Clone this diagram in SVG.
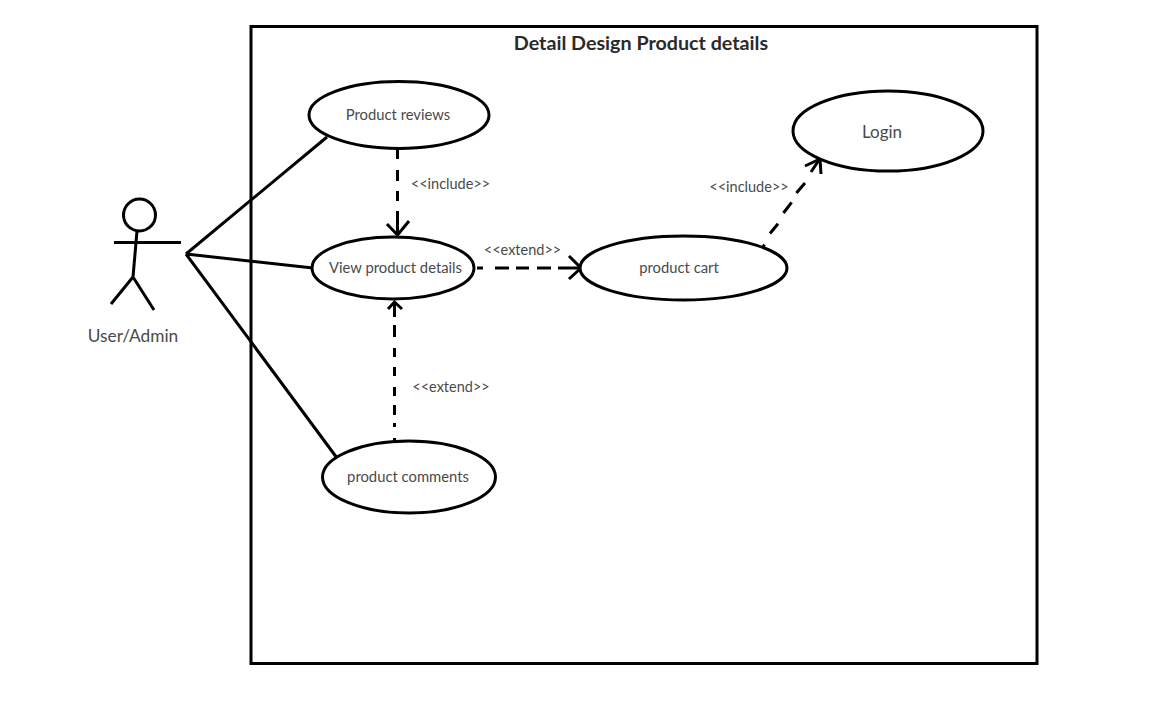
<svg xmlns="http://www.w3.org/2000/svg" width="1152" height="705" viewBox="0 0 1152 705">
<style>
text{font-family:"Lato","Open Sans","Liberation Sans",sans-serif;fill:#4a4a4a;text-anchor:middle}
.uc{fill:#fff;stroke:#000;stroke-width:3}
.l{fill:none;stroke:#000;stroke-width:3}
.t{font-size:14.800px}
.s{font-size:14.500px}
</style>
<rect width="1152" height="705" fill="#fff"/>
<g id="frame"><rect x="251" y="26.500" width="786" height="637" fill="none" stroke="#000" stroke-width="3"/>
<text x="641" y="49.500" style="font-size:19.700px;font-weight:700;fill:#2a2a2a">Detail Design Product details</text></g>
<g id="connectors">
<path class="l" d="M186 254L327 137M186 254L313 268M186 254L337 458"/>
<path class="l" d="M397.500 145V159M397.500 170V181M397.500 191V201M397.500 211V234"/>
<path class="l" d="M387 224L397.500 235L409 221"/>
<path class="l" d="M477 268H483M495 268H509M516 268H529M537 268H551M558 268H579"/>
<path class="l" d="M569 256L581 268L569 279"/>
<path class="l" d="M394.500 443V438M394.500 427V423M394.500 415V405M394.500 396V387M394.500 376V367M394.500 357V348M394.500 337V325M394.500 317V303"/>
<path class="l" d="M388 309L394.500 302L402 309"/>
<path class="l" d="M761 250L764.600 244.700M770 233.500L778 223.700M783.500 213L791.600 202.400M796.400 193L805 183M811 172L819 160"/>
<path class="l" d="M805 166L820 159L821 174"/>
</g>
<g id="actor">
<circle cx="139.500" cy="215" r="16" class="l"/>
<path class="l" d="M114 242.500H181M137 231L133 277M133 277L111 304M133 277L154 310"/>
<text x="133" y="342" style="font-size:17.300px">User/Admin</text>
</g>
<g id="product-reviews"><ellipse cx="399" cy="115" rx="90" ry="33.500" class="uc"/><text x="398" y="120" class="t">Product reviews</text></g>
<g id="view-product-details"><ellipse cx="393" cy="268" rx="81" ry="31" class="uc"/><text x="395.500" y="273" class="t">View product details</text></g>
<g id="product-comments"><ellipse cx="409" cy="477" rx="86.500" ry="36" class="uc"/><text x="408" y="482" class="t">product comments</text></g>
<g id="product-cart"><ellipse cx="683.500" cy="268" rx="103.500" ry="32" class="uc"/><text x="679" y="273" class="t">product cart</text></g>
<g id="login"><ellipse cx="888" cy="131" rx="95" ry="40" class="uc"/><text x="882" y="137.500" style="font-size:17px">Login</text></g>
<g id="labels">
<text x="450.500" y="189" class="s">&lt;&lt;include&gt;&gt;</text>
<text x="522.500" y="255" class="s">&lt;&lt;extend&gt;&gt;</text>
<text x="749" y="192" class="s">&lt;&lt;include&gt;&gt;</text>
<text x="451" y="392" class="s">&lt;&lt;extend&gt;&gt;</text>
</g>
</svg>
